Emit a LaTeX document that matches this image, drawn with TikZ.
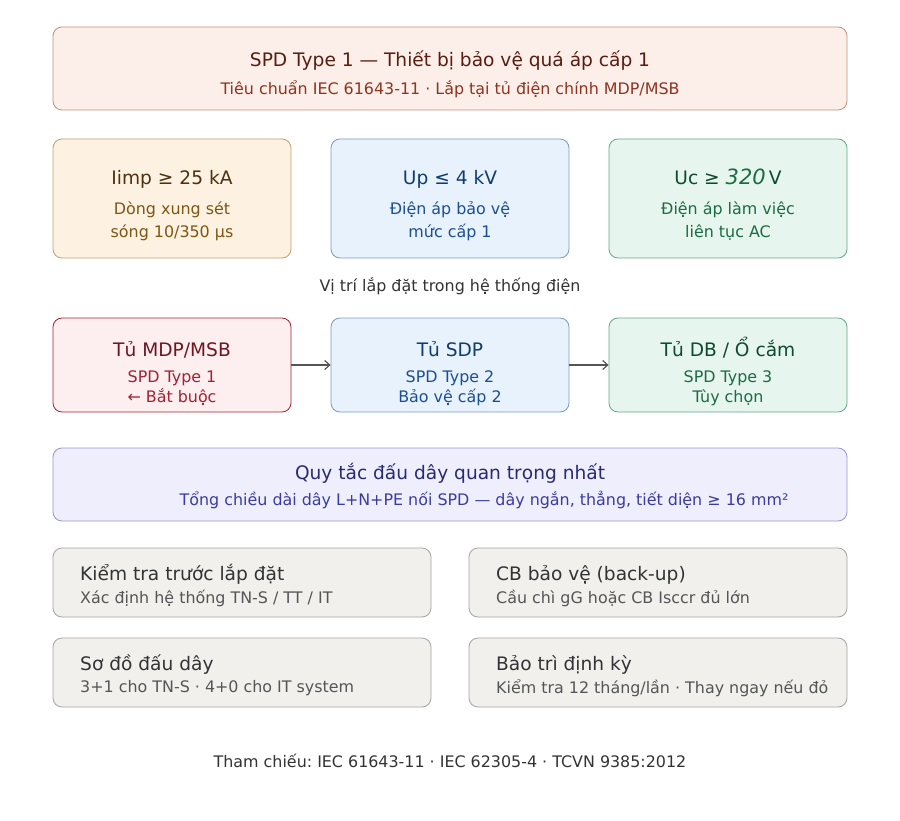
\documentclass[tikz,border=0pt]{standalone}
\usepackage{fontspec}
\setmainfont{DejaVu Sans}
\frenchspacing
\usetikzlibrary{arrows.meta}
\definecolor{head-fill}{HTML}{FCEFE9}
\definecolor{head-line}{HTML}{C8907E}
\definecolor{head-text}{HTML}{5A1C10}
\definecolor{head-sub}{HTML}{8E3420}
\definecolor{amber-fill}{HTML}{FDF2E1}
\definecolor{amber-line}{HTML}{C2A070}
\definecolor{amber-text}{HTML}{4A3212}
\definecolor{amber-sub}{HTML}{7E5514}
\definecolor{sky-fill}{HTML}{E8F2FC}
\definecolor{sky-line}{HTML}{7A9CC0}
\definecolor{sky-text}{HTML}{103C6E}
\definecolor{sky-sub}{HTML}{1C4E92}
\definecolor{mint-fill}{HTML}{E6F5EE}
\definecolor{mint-line}{HTML}{66A88A}
\definecolor{mint-text}{HTML}{0E4A32}
\definecolor{mint-sub}{HTML}{1A6C44}
\definecolor{rose-fill}{HTML}{FDEEF0}
\definecolor{rose-line}{HTML}{A22636}
\definecolor{rose-text}{HTML}{6E1620}
\definecolor{rose-sub}{HTML}{A22232}
\definecolor{lilac-fill}{HTML}{EEEEFC}
\definecolor{lilac-line}{HTML}{9A96CC}
\definecolor{lilac-text}{HTML}{2A2A72}
\definecolor{lilac-sub}{HTML}{3C3C9E}
\definecolor{stone-fill}{HTML}{F2F0EC}
\definecolor{stone-line}{HTML}{A4A4A4}
\definecolor{stone-text}{HTML}{333333}
\definecolor{stone-sub}{HTML}{555555}

\begin{document}
\begin{tikzpicture}[x=1pt,y=-1pt,
    card/.style={draw,rounded corners=9pt,line width=0.8pt,inner sep=0pt},
    big/.style={inner sep=0pt,text height=15pt,text depth=1pt,font=\fontsize{18.6}{22}\selectfont},
    small/.style={inner sep=0pt,font=\fontsize{15.9}{19}\selectfont,align=center}]
  \useasboundingbox[fill=white] (0,0) rectangle (900,821);					% page
  % header
  \node[card,fill=head-fill,draw=head-line,minimum width=794pt,minimum height=83pt] (head) at (450,68.5) {};
  \node[big,text=head-text] (head-t) at (450,60) {SPD Type 1 — Thiết bị bảo vệ quá áp cấp 1};
  \node[small,text=head-sub] (head-s) at (450,89) {Tiêu chuẩn IEC 61643-11 · Lắp tại tủ điện chính MDP/MSB};
  % ratings
  \foreach \name/\x/\col in {imp/172/amber,up/450/sky,uc/728/mint}{
    \node[card,fill=\col-fill,draw=\col-line,minimum width=238pt,minimum height=119pt] (\name) at (\x,198.5) {};
  }
  \node[big,text=amber-text] (imp-t) at (172,178) {Iimp ≥ 25 kA};
  \node[small,text=amber-sub] (imp-s) at (172,221.5) {Dòng xung sét\\[4pt]sóng 10/350 µs};
  \node[big,text=sky-text] (up-t) at (450,178) {Up ≤ 4 kV};
  \node[small,text=sky-sub] (up-s) at (450,221.5) {Điện áp bảo vệ\\[4pt]mức cấp 1};
  \node[big,text=mint-text] (uc-t) at (728,178) {Uc ≥ {\color{mint-sub}\fontsize{21}{21}\selectfont\itshape 320}\,V};
  \node[small,text=mint-sub] (uc-s) at (728,221.5) {Điện áp làm việc\\[4pt]liên tục AC};
  \node[font=\fontsize{15.9}{19}\selectfont,text=stone-text,inner sep=0pt] (where) at (450,286) {Vị trí lắp đặt trong hệ thống điện};
  % panels
  \node[card,fill=rose-fill,draw=rose-line,minimum width=238pt,minimum height=94pt] (mdp) at (172,365) {};
  \node[card,fill=sky-fill,draw=sky-line,minimum width=238pt,minimum height=94pt] (sdp) at (450,365) {};
  \node[card,fill=mint-fill,draw=mint-line,minimum width=238pt,minimum height=94pt] (db) at (728,365) {};
  \node[big,text=rose-text] (mdp-t) at (172,349) {Tủ MDP/MSB};
  \node[small,text=rose-sub] (mdp-s) at (172,388) {SPD Type 1\\[1pt]← Bắt buộc};
  \node[big,text=sky-text] (sdp-t) at (450,349) {Tủ SDP};
  \node[small,text=sky-sub] (sdp-s) at (450,388) {SPD Type 2\\[1pt]Bảo vệ cấp 2};
  \node[big,text=mint-text] (db-t) at (728,349) {Tủ DB / Ổ cắm};
  \node[small,text=mint-sub] (db-s) at (728,388) {SPD Type 3\\[1pt]Tùy chọn};
  \foreach \a/\b in {mdp/sdp,sdp/db}{								% feed arrows
    \draw[-{Straight Barb[length=5pt,width=9pt]},line width=1.2pt,draw=stone-sub] (\a) -- (\b);
  }
  % wiring rule
  \node[card,fill=lilac-fill,draw=lilac-line,minimum width=794pt,minimum height=73pt] (rule) at (450,484.5) {};
  \node[big,text=lilac-text] (rule-t) at (450,472) {Quy tắc đấu dây quan trọng nhất};
  \node[small,text=lilac-sub] (rule-s) at (484,500) {Tổng chiều dài dây L+N+PE nối SPD — dây ngắn, thẳng, tiết diện ≥ 16 mm²};
  % notes
  \foreach \name/\x/\y in {check/242/582.5,backup/658/582.5,wiring/242/672.5,service/658/672.5}{
    \node[card,fill=stone-fill,draw=stone-line,minimum width=378pt,minimum height=69pt] (\name) at (\x,\y) {};
  }
  \node[big,text=stone-text,anchor=west] (check-t) at (80,573) {Kiểm tra trước lắp đặt};
  \node[small,text=stone-sub,anchor=west] (check-s) at (80,598) {Xác định hệ thống TN-S / TT / IT};
  \node[big,text=stone-text,anchor=west] (backup-t) at (496,573) {CB bảo vệ (back-up)};
  \node[small,text=stone-sub,anchor=west] (backup-s) at (496,598) {Cầu chì gG hoặc CB Isccr đủ lớn};
  \node[big,text=stone-text,anchor=west] (wiring-t) at (80,663) {Sơ đồ đấu dây};
  \node[small,text=stone-sub,anchor=west] (wiring-s) at (80,688) {3+1 cho TN-S · 4+0 cho IT system};
  \node[big,text=stone-text,anchor=west] (service-t) at (496,663) {Bảo trì định kỳ};
  \node[small,text=stone-sub,anchor=west] (service-s) at (496,688) {Kiểm tra 12 tháng/lần · Thay ngay nếu đỏ};
  % footer
  \node[font=\fontsize{15.9}{19}\selectfont,text=stone-text,inner sep=0pt] (refs) at (450,761) {Tham chiếu: IEC 61643-11 · IEC 62305-4 · TCVN 9385:2012};
\end{tikzpicture}
\end{document}
